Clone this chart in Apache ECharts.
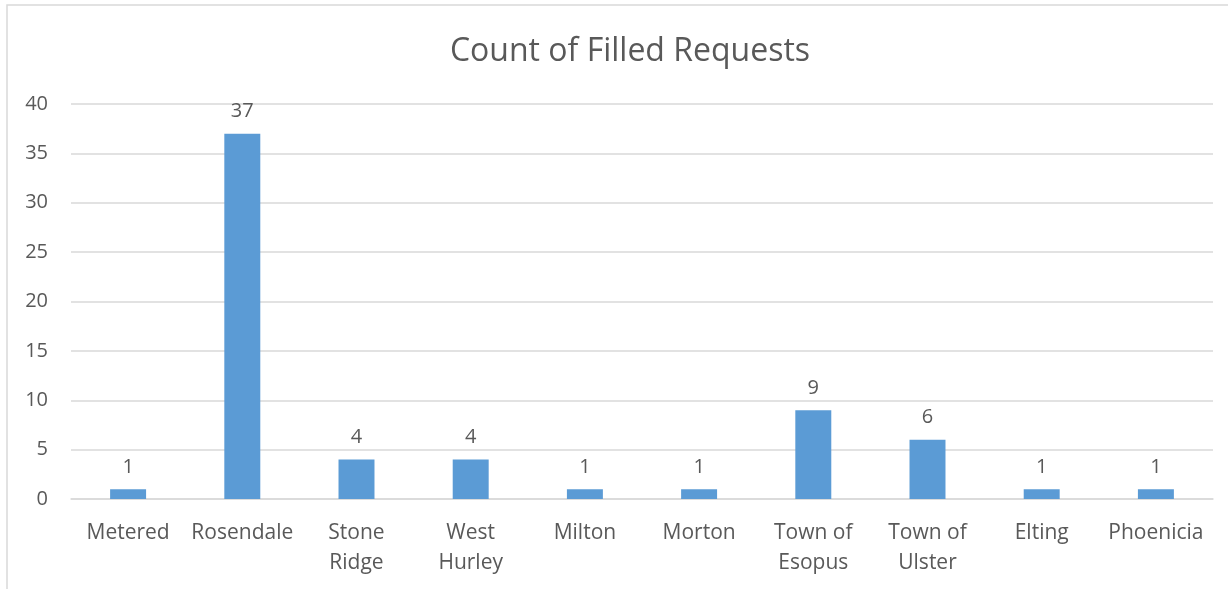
<!DOCTYPE html>
<html>
<head>
<meta charset="utf-8">
<script src="https://cdn.jsdelivr.net/npm/echarts@6/dist/echarts.min.js"></script>
<style>
  html, body { margin: 0; padding: 0; background: #fff; }
  #chart { width: 1228px; height: 589px; }
</style>
</head>
<body>
<div id="chart"></div>
<script>
var categories = ['Metered', 'Rosendale', 'Stone\nRidge', 'West\nHurley', 'Milton', 'Morton', 'Town of\nEsopus', 'Town of\nUlster', 'Elting', 'Phoenicia'];
var requestCounts = [1, 37, 4, 4, 1, 1, 9, 6, 1, 1];

var textColor = '#595959';
var fontName = 'Open Sans';

var chart = echarts.init(document.getElementById('chart'));
var option = {
    animation: false,
    textStyle: { fontFamily: fontName },
    title: {
        text: 'Count of Filled Requests',
        left: 625,
        textAlign: 'center',
        top: 31,
        textStyle: { color: textColor, fontSize: 32, fontWeight: 'normal', fontFamily: fontName }
    },
    graphic: [
        {
            type: 'rect',
            shape: { x: 7, y: 5, width: 1260, height: 640 },
            style: { fill: 'none', stroke: '#d9d9d9', lineWidth: 1.5 },
            silent: true
        }
    ],
    grid: {
        left: 71,
        right: 15,
        top: 104,
        bottom: 90,
        containLabel: false
    },
    xAxis: {
        type: 'category',
        data: categories,
        axisLine: { lineStyle: { color: '#d9d9d9', width: 1.5 } },
        axisTick: { show: false },
        axisLabel: {
            color: textColor,
            fontSize: 21,
            lineHeight: 30,
            margin: 19,
            interval: 0
        }
    },
    yAxis: {
        type: 'value',
        min: 0,
        max: 40,
        interval: 5,
        axisLine: { show: false },
        axisTick: { show: false },
        splitLine: { lineStyle: { color: '#d9d9d9', width: 1.5 } },
        axisLabel: { color: textColor, fontSize: 20, margin: 23 }
    },
    series: [
        {
            name: 'Count',
            type: 'bar',
            data: requestCounts,
            barWidth: '31.5%',
            itemStyle: { color: '#5b9bd5' },
            label: {
                show: true,
                position: 'top',
                distance: 12,
                color: textColor,
                fontSize: 20
            }
        }
    ]
};
chart.setOption(option);
</script>
</body>
</html>
